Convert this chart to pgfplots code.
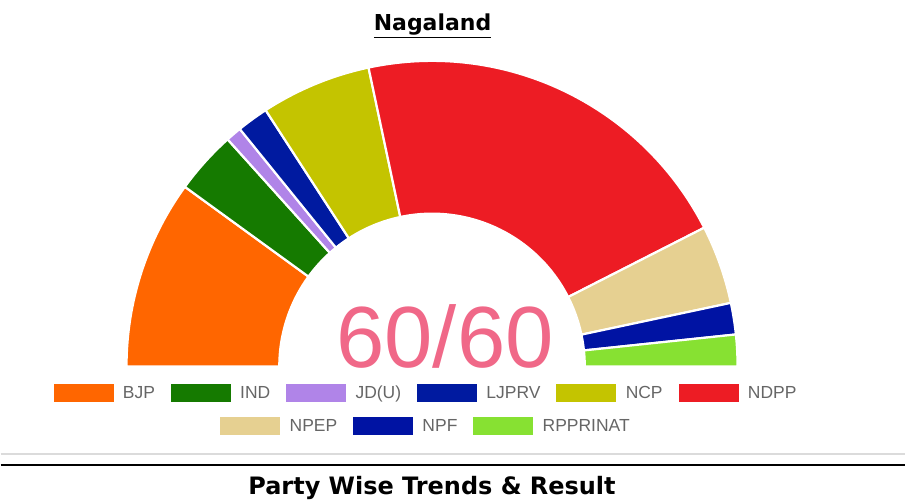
\documentclass[border=0pt]{standalone}
\usepackage{pgfplots}
\pgfplotsset{compat=1.18}
\usepackage{pgfplotstable}
\usepackage{fontspec}
\setmainfont{Liberation Sans}
\newfontfamily\dejavu{DejaVu Sans}

\definecolor{cBJP}{RGB}{255,102,0}
\definecolor{cIND}{RGB}{21,122,0}
\definecolor{cJDU}{RGB}{176,132,232}
\definecolor{cLJPRV}{RGB}{0,26,160}
\definecolor{cNCP}{RGB}{196,196,0}
\definecolor{cNDPP}{RGB}{237,28,36}
\definecolor{cNPEP}{RGB}{230,208,145}
\definecolor{cNPF}{RGB}{0,19,163}
\definecolor{cRPP}{RGB}{135,225,50}
\definecolor{centerpink}{RGB}{240,104,136}

% seats won, in seating order from left to right
\pgfplotstableread{
party seats color
BJP 12 cBJP
IND 4 cIND
JDU 1 cJDU
LJPRV 2 cLJPRV
NCP 7 cNCP
NDPP 25 cNDPP
NPEP 5 cNPEP
NPF 2 cNPF
RPPRINAT 2 cRPP
}\seats

\def\total{60}
\def\cx{432}
\def\cy{135}
\def\rout{306}
\def\rin{153}

\begin{document}
\begin{tikzpicture}
\path (0,0) rectangle (906bp,502bp);
\begin{axis}[
    width=906bp, height=502bp, scale only axis,
    xmin=0, xmax=906, ymin=0, ymax=502,
    axis lines=none, ticks=none, clip=false,
    legend image code/.code={\fill[#1] (0bp,-8.5bp) rectangle (59bp,8.5bp);},
    legend columns=6,
    legend style={at={(axis cs:425,108.5)}, anchor=center, draw=none, fill=none,
        inner sep=0pt, column sep=10bp,
        /tikz/every even column/.append style={column sep=16bp},
        nodes={inner sep=0pt, text=black!60, font=\fontsize{17.5bp}{20bp}\selectfont}},
  ]
  \def\cum{0}
  \pgfplotsinvokeforeach{0,...,8}{
    \pgfplotstablegetelem{#1}{seats}\of\seats \let\n\pgfplotsretval
    \pgfplotstablegetelem{#1}{color}\of\seats \let\c\pgfplotsretval
    \pgfmathsetmacro{\aS}{180-180*\cum/\total}
    \pgfmathsetmacro{\aE}{180-180*(\cum+\n)/\total}
    \pgfmathsetmacro{\cum}{\cum+\n}
    \pgfmathsetmacro{\xa}{\cx+\rout*cos(\aS)}
    \pgfmathsetmacro{\ya}{\cy+\rout*sin(\aS)}
    \pgfmathsetmacro{\xb}{\cx+\rin*cos(\aE)}
    \pgfmathsetmacro{\yb}{\cy+\rin*sin(\aE)}
    \edef\cmd{\noexpand\fill[\c, draw=white, line width=2.2bp]
      (axis cs:\xa,\ya) arc[start angle=\aS, end angle=\aE, radius=\rout bp]
      -- (axis cs:\xb,\yb) arc[start angle=\aE, end angle=\aS, radius=\rin bp] -- cycle;}
    \cmd
  }
  \addlegendimage{cBJP}\addlegendentry{BJP}
  \addlegendimage{cIND}\addlegendentry{IND}
  \addlegendimage{cJDU}\addlegendentry{JD(U)}
  \addlegendimage{cLJPRV}\addlegendentry{LJPRV}
  \addlegendimage{cNCP}\addlegendentry{NCP}
  \addlegendimage{cNDPP}\addlegendentry{NDPP}

  \node[anchor=base, text=centerpink, font=\fontsize{87bp}{90bp}\selectfont]
    at (axis cs:445,134) {60/60};
  \node[anchor=base, font=\dejavu\bfseries\fontsize{22bp}{24bp}\selectfont]
    at (axis cs:432.5,471) {\underline{Nagaland}};
  \draw[black!14, line width=1.5bp] (axis cs:0,47) -- (axis cs:906,47);
  \draw[black, line width=1.5bp] (axis cs:0,36) -- (axis cs:906,36);
  \node[anchor=base, font=\dejavu\bfseries\fontsize{24bp}{26bp}\selectfont]
    at (axis cs:432,7) {Party Wise Trends \& Result};
\end{axis}
\begin{axis}[
    width=906bp, height=502bp, scale only axis,
    xmin=0, xmax=906, ymin=0, ymax=502,
    axis lines=none, ticks=none, clip=false,
    legend image code/.code={\fill[#1] (0bp,-8.5bp) rectangle (59bp,8.5bp);},
    legend columns=3,
    legend style={at={(axis cs:425,75.5)}, anchor=center, draw=none, fill=none,
        inner sep=0pt, column sep=10bp,
        /tikz/every even column/.append style={column sep=16bp},
        nodes={inner sep=0pt, text=black!60, font=\fontsize{17.5bp}{20bp}\selectfont}},
  ]
  \addlegendimage{cNPEP}\addlegendentry{NPEP}
  \addlegendimage{cNPF}\addlegendentry{NPF}
  \addlegendimage{cRPP}\addlegendentry{RPPRINAT}
\end{axis}
\end{tikzpicture}
\end{document}
